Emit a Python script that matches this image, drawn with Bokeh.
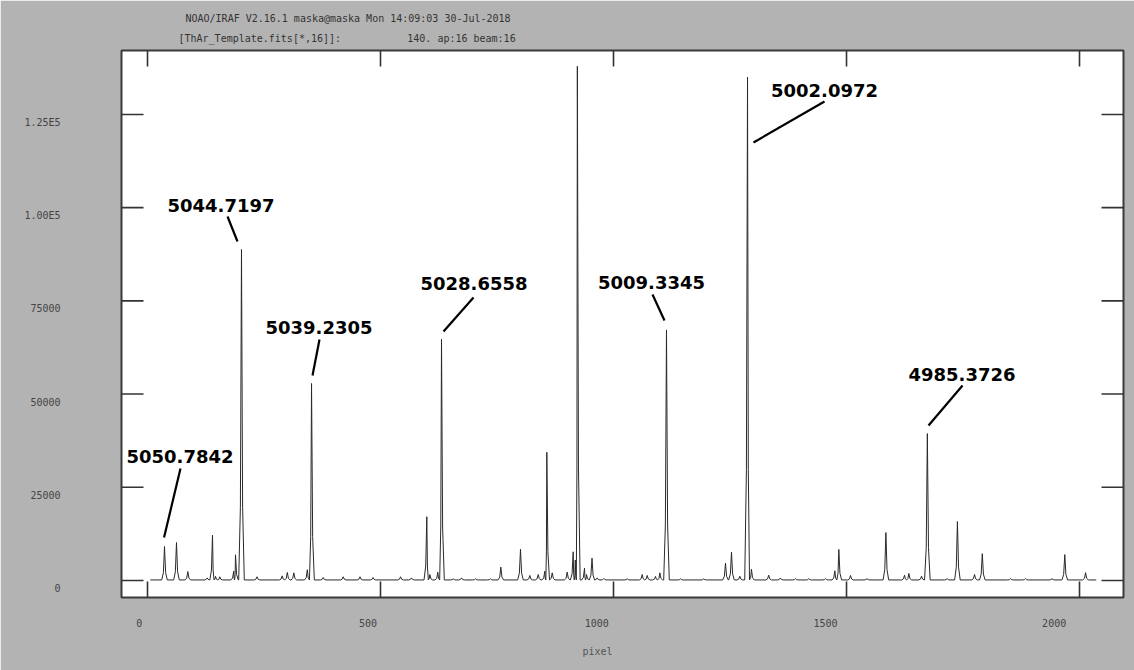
import numpy as np
from bokeh.plotting import figure
from bokeh.models import Range1d, LinearAxis, FixedTicker, Title
from bokeh.core.properties import value
from bokeh.embed import file_html
from bokeh.resources import INLINE

# ---------------- data ----------------
# emission peaks of the ThAr spectrum: detector pixel and peak counts
peak_pixel = [36.5, 62.2, 86.5, 128, 139.5, 146, 155, 185, 188.8, 201.7,
              235, 289, 300, 314, 343, 352, 377, 420, 456, 484,
              543, 566.5, 599.4, 605.8, 623, 630.9, 656, 673.8, 703.9, 736,
              758.2, 800.4, 820.4, 838.4, 852.6, 856.9, 868.5, 900.6, 913.5, 918.0,
              922.4, 937.8, 942, 953.9, 965, 979.2, 1029.4, 1061.6, 1072.3, 1090.1,
              1099.4, 1113.7, 1143.8, 1193.8, 1240.3, 1253.2, 1271, 1287.6, 1296, 1333,
              1358, 1390.6, 1419, 1455, 1475, 1483.5, 1508.6, 1544, 1584.5, 1624.5,
              1633.7, 1661, 1673.5, 1716, 1738, 1774.7, 1791.4, 1852, 1884, 1941,
              1968.4, 2013]
peak_counts = [9120, 10190, 2400, 700, 12200, 1100, 1000, 2500, 6900, 88770,
               1000, 1250, 2150, 2050, 2900, 52840, 800, 1000, 1000, 800,
               1000, 700, 17100, 1600, 2200, 64700, 450, 700, 450, 450,
               3600, 8400, 1350, 1600, 2500, 34400, 2050, 2250, 7700, 5500,
               137900, 3300, 1600, 6000, 700, 550, 450, 1600, 1350, 1100,
               2050, 67200, 450, 450, 4650, 7600, 1150, 135000, 3000, 1430,
               670, 500, 500, 500, 2600, 8330, 1340, 500, 12850, 1430,
               1900, 1150, 39400, 500, 15800, 1600, 7200, 500, 500, 500,
               6950, 2100]
baseline_counts = 150
first_pixel, last_pixel = 6, 2036

# identified lines (wavelength in Angstrom)
line_labels = ["5050.7842", "5044.7197", "5039.2305", "5028.6558",
               "5009.3345", "5002.0972", "4985.3726"]

# axes
x_ticks = [0, 500, 1000, 1500, 2000]
y_ticks = [0, 25000, 50000, 75000, 100000, 125000]
y_tick_labels = ["0", "25000", "50000", "75000", "1.00E5", "1.25E5"]
header_1 = "NOAO/IRAF V2.16.1 maska@maska Mon 14:09:03 30-Jul-2018"
header_2 = "[ThAr_Template.fits[*,16]]:" + "\u00a0" * 11 + "140. ap:16 beam:16"
x_title = "pixel"

# ---------------- annotation layout (positions only) ----------------
label_x = [69.7, 157.7, 368, 700.6, 1081.5, 1452.8, 1747.9]
label_y = [33260, 100580, 67850, 79650, 79920, 131420, 55250]
lead_x0 = [70.8, 171.7, 369.1, 699.6, 1083.7, 1452.8, 1749]
lead_y0 = [30040, 97620, 64640, 75900, 76700, 128470, 52300]
lead_x1 = [35.5, 193.1, 354.1, 635.2, 1109.4, 1300.4, 1676]
lead_y1 = [11530, 90920, 54980, 66780, 69730, 117470, 41570]

# ---------------- spectrum polyline from the peak list ----------------
HALF = 6.0
order = np.argsort(peak_pixel)
pp = np.asarray(peak_pixel, float)[order]
hh = np.asarray(peak_counts, float)[order]
xs, ys = [first_pixel], [baseline_counts]
for i, (pk, h) in enumerate(zip(pp, hh)):
    left = pp[i - 1] if i > 0 else first_pixel
    right = pp[i + 1] if i < len(pp) - 1 else last_pixel
    wl = min(HALF, (pk - left) / 2)
    wr = min(HALF, (right - pk) / 2)
    foot = baseline_counts + 0.22 * (h - baseline_counts)
    xs += [pk - wl, pk - 0.4 * wl, pk, pk + 0.4 * wr, pk + wr]
    ys += [baseline_counts, foot, h, foot, baseline_counts]
xs.append(last_pixel)
ys.append(baseline_counts)

# ---------------- figure ----------------
GRAY = "#b3b3b3"
MONO = "DejaVu Sans Mono"
W, H = 1134, 670
BL, BR, BT, BB = 121, 11, 50, 73
X0, X1 = -55.8, 2094.4
Y0, Y1 = -4559, 142146
p = figure(width=W, height=H,
           x_range=Range1d(X0, X1), y_range=Range1d(Y0, Y1),
           x_axis_location=None, y_axis_location=None,
           output_backend="svg", toolbar_location=None,
           min_border_left=BL, min_border_right=BR,
           min_border_top=BT, min_border_bottom=BB,
           background_fill_color="white", border_fill_color=GRAY,
           outline_line_color="#3a3a3a", outline_line_width=2)
p.grid.visible = False
p.extra_x_ranges = {"lab": Range1d(-38.9, 2151.6)}
p.extra_y_ranges = {"lab": Range1d(-2414, 144292)}


def label_axis(ticks, standoff, **kw):
    return LinearAxis(ticker=FixedTicker(ticks=ticks), major_tick_in=0,
                      major_tick_out=0, major_tick_line_color=None,
                      minor_tick_line_color=None, axis_line_color=None,
                      major_label_standoff=standoff,
                      major_label_text_font=MONO, major_label_text_font_size="10px",
                      major_label_text_color="#444444", **kw)


p.add_layout(label_axis(x_ticks, 21, x_range_name="lab"), "below")
p.add_layout(label_axis(y_ticks, 61, y_range_name="lab",
                        major_label_overrides=dict(zip(y_ticks, y_tick_labels))), "left")

# inward tick marks on all four sides (lengths given in screen pixels)
dx = (X1 - X0) / (W - BL - BR)     # data units per screen pixel
dy = (Y1 - Y0) / (H - BT - BB)
ny, nx = len(y_ticks), len(x_ticks)
TICK = dict(line_color="#333333", line_width=1.6)
p.segment([X0] * ny, y_ticks, [X0 + 22 * dx] * ny, y_ticks, **TICK)
p.segment([X1] * ny, y_ticks, [X1 - 22 * dx] * ny, y_ticks, **TICK)
p.segment(x_ticks, [Y0] * nx, x_ticks, [Y0 + 16 * dy] * nx, **TICK)
p.segment(x_ticks, [Y1] * nx, x_ticks, [Y1 - 16 * dy] * nx, **TICK)

p.add_layout(Title(text=header_2, align="left", offset=57, standoff=13,
                   text_font=MONO, text_font_size="10px", text_font_style="normal",
                   text_color="#333333"), "above")
p.add_layout(Title(text=header_1, align="left", offset=64, standoff=2,
                   text_font=MONO, text_font_size="10px", text_font_style="normal",
                   text_color="#333333"), "above")
p.add_layout(Title(text=x_title, align="left", offset=461, standoff=28,
                   text_font=MONO, text_font_size="10px", text_font_style="normal",
                   text_color="#555555"), "below")

p.line(xs, ys, line_color="#2a2a2a", line_width=1)
p.segment(lead_x0, lead_y0, lead_x1, lead_y1, line_color="black", line_width=2.2)
p.text(label_x, label_y, text=line_labels, text_font=value("DejaVu Sans"),
       text_font_style="bold", text_font_size="18px", text_color="black",
       text_align="center", text_baseline="middle")

open("out.html", "w").write(file_html(p, INLINE))
